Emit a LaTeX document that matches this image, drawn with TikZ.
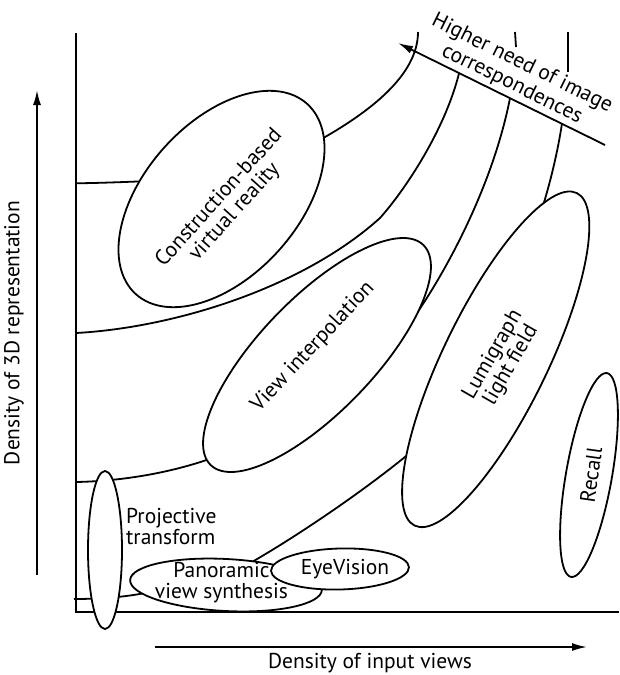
\documentclass[tikz,border=0pt]{standalone}
\usepackage{fontspec}
\setmainfont{PT Sans}
\usetikzlibrary{shapes.geometric,arrows.meta,calc}
\begin{document}
\begin{tikzpicture}[x=1pt,y=-1pt,
  every node/.style={font=\fontsize{21.5}{21}\selectfont},
  oval/.style={ellipse, draw, fill=white, line width=1.8pt, inner sep=0pt},
  curve/.style={line width=1.8pt},
  axisline/.style={line width=2.2pt, line join=miter},
  lbl/.style={align=center, inner sep=0pt},
  arr/.style={line width=1.8pt, -{Latex[length=15pt,width=8pt]}}]
\useasboundingbox (0,0) rectangle (619,675);
% axes
\coordinate (ytop) at (76,33);
\coordinate (origin) at (76,612);
\coordinate (xend) at (619,612);
\draw[axisline] (ytop) -- (origin) -- (xend);
% arrow of correspondences
\coordinate (as) at (605,145);
\coordinate (at) at (398,43);
\coordinate (c2end) at ($(at)!0.295!(as)$);
\coordinate (c3end) at ($(at)!0.541!(as)$);
\coordinate (c4end) at ($(at)!0.792!(as)$);
% curves
\draw[curve] (76,183.3) .. controls (100,183) and (125,182) .. (150,181);
\draw[curve] (318,141) .. controls (370,112) and (418,75) .. (418,32);
\draw[curve] (76,333) .. controls (170,328) and (300,290) .. (380,218)
   .. controls (405,190) and (445,130) .. (c2end);
\draw[curve] (76,482) .. controls (130,481) and (180,470) .. (215,457);
\draw[curve] (390,348) -- (397,340) .. controls (430,300) and (490,200) .. (c3end);
\draw[curve] (515,32) -- (516,47);
\draw[curve] (74,599) .. controls (100,599) and (125,597) .. (145,593);
\draw[curve] (245,566) .. controls (300,535) and (380,480) .. (425,440);
\draw[curve] (540,215) .. controls (550,185) and (558,150) .. (c4end);
\draw[curve] (568,32) -- (568,72);
\draw[arr] (as) -- (at);
% ellipses
\node[oval, minimum width=256pt, minimum height=154pt, rotate=48] (cvr) at (221.5,199) {};
\node[oval, minimum width=306pt, minimum height=114pt, rotate=46] (vip) at (317,355) {};
\node[oval, minimum width=370pt, minimum height=104pt, rotate=64] (lum) at (495.7,359.3) {};
\node[oval, minimum width=207pt, minimum height=46pt, rotate=80] (rec) at (589,475) {};
\node[oval, minimum width=34pt, minimum height=158pt] (proj) at (105,550) {};
\node[oval, minimum width=192pt, minimum height=52pt, rotate=-3] (pano) at (226,585) {};
\node[oval, minimum width=138pt, minimum height=41pt, rotate=1.5] (eye) at (340,569) {};
% labels
\node[lbl, rotate=48] (tcvr) at (227,205) {Construction-based\\virtual reality};
\node[lbl, rotate=47] (tview) at (313,347) {View interpolation};
\node[lbl, rotate=60] (tlumi) at (502,360) {Lumigraph\\light field};
\node[lbl, rotate=82] (trec) at (591,475) {Recall};
\node[lbl, align=left, anchor=west] (tproj) at (126,527) {Projective\\transform};
\node[lbl] (tpano) at (221.5,583) {Panoramic\\view synthesis};
\node[lbl] (teye) at (345,569) {EyeVision};
\node[lbl, rotate=-26.2, font=\fontsize{21.5}{23}\selectfont] (thigh) at (517,74) {Higher need of image\\correspondences};
% axis arrows and labels
\coordinate (ya0) at (37,575);
\coordinate (ya1) at (37,90);
\draw[arr] (ya0) -- (ya1);
\node[rotate=90] (ylab) at (14,333) {Density of 3D representation};
\coordinate (xa0) at (155,647);
\coordinate (xa1) at (587,647);
\draw[arr] (xa0) -- (xa1);
\node (xlab) at (370,663) {Density of input views};
\end{tikzpicture}
\end{document}
